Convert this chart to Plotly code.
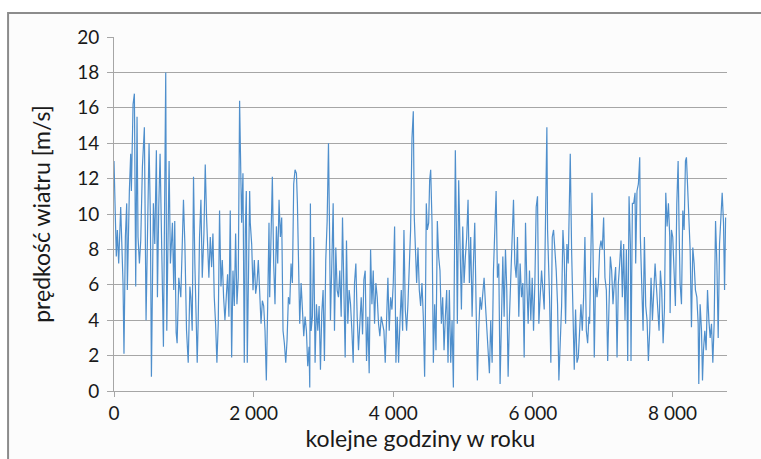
import plotly.graph_objects as go

# Hourly wind speed (hour of year, m/s)
seg1_hours = [0, 33, 48, 67, 96, 105, 129, 143, 163, 182, 191, 220, 239, 249, 273, 292, 301, 311, 330, 344,
              364, 383, 407, 435, 459, 502, 521, 536, 564, 584, 607, 622, 641, 660, 708, 732, 741, 756, 789, 808,
              837, 856, 870, 890, 904, 928, 957, 995]
seg1_speed = [13.0, 7.6, 9.1, 7.2, 10.4, 9.5, 6.1, 2.1, 8.7, 10.6, 5.7, 11.3, 13.4, 11.3, 16.2, 16.8, 11.0, 5.9, 15.5, 8.7,
              7.2, 8.5, 12.7, 14.9, 4.0, 14.0, 9.8, 0.8, 10.6, 8.3, 13.6, 5.3, 10.4, 13.4, 2.5, 13.2, 18.0, 3.4, 13.0, 7.2,
              9.5, 5.7, 9.6, 3.3, 2.7, 6.4, 5.3, 10.8]

seg2_hours = [1015, 1039, 1063, 1087, 1101, 1120, 1139, 1158, 1178, 1192, 1206, 1225, 1245, 1264, 1288, 1307, 1326, 1340,
              1359, 1379, 1398, 1417, 1436, 1455, 1474, 1493, 1512, 1532, 1551, 1570, 1589, 1608, 1627, 1646, 1665, 1685,
              1704, 1723, 1742, 1761, 1780, 1799, 1814, 1828, 1847, 1866, 1881, 1895, 1909, 1924, 1943, 1952, 1972, 1991,
              2010, 2029, 2048, 2067, 2086, 2106, 2125, 2144, 2163, 2182, 2201, 2220]
seg2_speed = [8.3, 3.4, 1.6, 5.9, 5.3, 3.4, 12.1, 7.2, 4.2, 1.6, 4.0, 8.7, 10.8, 6.4, 8.9, 12.8, 9.8, 8.0,
              6.4, 8.7, 7.0, 8.9, 5.3, 3.8, 1.6, 3.8, 10.2, 5.9, 7.4, 5.3, 4.0, 5.3, 6.6, 4.2, 10.2, 1.9,
              6.8, 4.8, 8.9, 4.9, 6.4, 16.4, 13.2, 9.5, 12.3, 1.6, 9.1, 11.3, 1.6, 7.2, 11.3, 9.5, 8.3, 5.7,
              7.4, 5.5, 6.1, 7.4, 5.3, 3.8, 5.1, 4.8, 3.4, 0.6, 4.8, 9.5]

seg3_hours = [2230, 2249, 2268, 2287, 2306, 2326, 2345, 2364, 2383, 2402, 2421, 2440, 2460, 2479, 2498, 2517, 2536, 2555,
              2574, 2593, 2613, 2627, 2641, 2660, 2680, 2699, 2718, 2737, 2756, 2775, 2794, 2804, 2813, 2823, 2842, 2861,
              2880, 2900, 2919, 2938, 2957, 2976, 2995, 3014, 3033, 3053, 3072, 3086, 3100, 3120, 3139, 3158, 3177, 3196,
              3215, 3234, 3254, 3273, 3292, 3311, 3330, 3349, 3368]
seg3_speed = [5.3, 8.7, 12.1, 7.2, 4.9, 9.3, 7.2, 10.8, 8.7, 9.8, 3.4, 2.7, 1.6, 2.9, 5.3, 4.9, 7.2, 6.1,
              11.7, 12.5, 12.3, 10.6, 6.8, 3.8, 6.1, 4.6, 3.1, 4.2, 3.4, 1.4, 2.5, 0.2, 10.6, 3.4, 4.2, 8.7,
              1.6, 4.9, 3.4, 4.8, 1.2, 4.4, 5.7, 1.7, 7.4, 9.6, 14.0, 9.5, 4.0, 7.2, 10.6, 3.4, 8.1, 5.7,
              5.3, 6.8, 4.2, 9.8, 6.1, 1.9, 8.5, 3.8, 5.7]

seg4_hours = [3388, 3407, 3426, 3445, 3464, 3483, 3502, 3521, 3541, 3560, 3579, 3598, 3617, 3636, 3655, 3675, 3694, 3713,
              3732, 3751, 3770, 3789, 3808, 3828, 3847, 3866, 3885, 3904, 3923, 3942, 3962, 3981, 4000, 4019, 4038, 4057,
              4076, 4095, 4115, 4134, 4153, 4172, 4191, 4210, 4229, 4248, 4268, 4287, 4301, 4315, 4335, 4354, 4373, 4392,
              4411, 4430, 4449, 4459, 4473, 4488, 4507, 4521]
seg4_speed = [4.9, 3.4, 1.6, 6.1, 7.2, 4.2, 2.3, 3.8, 5.3, 3.2, 6.3, 6.8, 1.7, 4.2, 1.0, 8.0, 4.9, 6.8,
              3.8, 6.1, 5.3, 3.8, 3.1, 4.2, 3.8, 3.4, 1.6, 4.0, 6.4, 3.4, 5.3, 4.6, 6.1, 9.3, 1.6, 4.2,
              1.6, 3.8, 5.7, 3.4, 9.1, 4.6, 3.4, 4.9, 6.8, 9.1, 14.3, 15.8, 9.8, 8.3, 6.1, 8.1, 5.7, 4.8,
              6.1, 4.2, 0.8, 3.8, 10.6, 9.1, 9.5, 11.9]

seg5_hours = [4536, 4555, 4574, 4593, 4612, 4631, 4650, 4669, 4689, 4708, 4727, 4746, 4765, 4784, 4803, 4823, 4842, 4861,
              4880, 4889, 4904, 4918, 4937, 4956, 4976, 4995, 5014, 5033, 5052, 5071, 5090, 5109, 5129, 5148, 5167, 5186,
              5205, 5224, 5243, 5263, 5282, 5301, 5320, 5339, 5358, 5377, 5396, 5416, 5435, 5454, 5473, 5492, 5511, 5530,
              5550, 5569, 5588, 5607, 5626, 5645, 5664]
seg5_speed = [12.5, 9.5, 1.6, 4.9, 2.3, 9.6, 7.6, 6.8, 3.8, 5.3, 2.3, 4.2, 5.7, 1.6, 5.7, 1.6, 4.0, 0.2,
              7.6, 13.6, 9.1, 3.8, 11.9, 7.2, 4.6, 9.3, 6.1, 7.6, 8.7, 10.8, 6.1, 8.7, 4.2, 7.2, 9.5, 4.9,
              0.6, 3.4, 5.3, 4.6, 5.7, 6.4, 4.9, 3.4, 2.5, 1.0, 4.0, 1.6, 6.8, 9.6, 11.3, 6.4, 7.2, 0.4,
              3.4, 7.6, 4.2, 8.0, 5.7, 0.8, 4.2]

seg6_hours = [5684, 5703, 5722, 5741, 5760, 5779, 5798, 5817, 5837, 5856, 5875, 5894, 5913, 5932, 5951, 5970, 5990, 6009,
              6028, 6047, 6066, 6085, 6104, 6124, 6143, 6162, 6181, 6200, 6210, 6219, 6238, 6257, 6277, 6296, 6315, 6334,
              6353, 6372, 6391, 6411, 6430, 6449, 6468, 6487, 6506, 6525, 6535, 6554, 6573, 6592, 6611, 6631, 6650, 6669,
              6688, 6707, 6726, 6745, 6765, 6784, 6803]
seg6_speed = [7.2, 8.7, 10.8, 7.2, 6.4, 8.7, 4.2, 7.2, 5.3, 6.1, 1.9, 9.5, 6.1, 3.8, 6.8, 4.0, 6.4, 3.4,
              6.1, 10.4, 11.0, 3.8, 5.3, 6.8, 5.7, 4.6, 9.8, 14.9, 9.1, 7.2, 5.3, 1.6, 8.7, 9.1, 8.0, 6.8,
              4.9, 0.6, 2.7, 4.8, 9.1, 7.6, 3.8, 8.3, 7.2, 11.5, 13.4, 8.0, 3.4, 1.2, 4.6, 1.6, 1.9, 3.8,
              4.9, 3.4, 5.3, 8.7, 3.4, 2.7, 4.2]

seg7_hours = [6812, 6832, 6846, 6860, 6879, 6898, 6918, 6937, 6956, 6975, 6994, 7013, 7032, 7052, 7071, 7090, 7109, 7128,
              7147, 7166, 7185, 7205, 7224, 7243, 7262, 7281, 7300, 7319, 7339, 7358, 7377, 7396, 7405, 7425, 7444, 7463,
              7472, 7491, 7511, 7530, 7539, 7558, 7578, 7597, 7616, 7635, 7654, 7673, 7692, 7712, 7731, 7750, 7769, 7788,
              7807, 7826, 7845, 7865, 7884, 7903, 7922, 7941, 7960]
seg7_speed = [3.8, 7.2, 11.2, 8.3, 1.9, 6.4, 5.3, 6.1, 8.0, 8.5, 8.0, 9.8, 6.4, 5.7, 1.7, 4.8, 7.6, 6.8,
              4.9, 6.1, 7.0, 1.9, 6.1, 7.2, 8.5, 5.3, 8.3, 4.0, 8.0, 1.7, 11.0, 8.3, 1.7, 10.6, 10.6, 11.2,
              7.2, 11.3, 11.7, 13.2, 8.7, 6.1, 3.4, 8.7, 4.8, 4.0, 1.7, 3.4, 6.4, 4.0, 5.7, 7.2, 5.9, 4.9,
              3.4, 6.8, 5.7, 2.7, 4.6, 11.2, 9.3, 10.6, 8.7]

seg8_hours = [7965, 7984, 8003, 8022, 8041, 8061, 8080, 8094, 8108, 8128, 8147, 8166, 8185, 8199, 8214, 8233, 8252, 8271,
              8290, 8309, 8328, 8348, 8367, 8376, 8395, 8415, 8429, 8443, 8462, 8481, 8501, 8520, 8539, 8558, 8577, 8596,
              8616, 8635, 8654, 8673, 8692, 8711, 8730, 8745, 8760]
seg8_speed = [4.4, 9.1, 8.7, 6.8, 4.8, 10.6, 13.0, 9.1, 6.1, 4.9, 10.2, 9.1, 13.0, 13.2, 11.7, 9.5, 8.0, 3.6,
              8.1, 7.2, 5.7, 5.3, 3.8, 0.4, 4.9, 3.4, 0.6, 2.3, 3.4, 2.3, 5.7, 4.0, 3.0, 3.8, 1.6, 3.8,
              9.6, 7.2, 3.0, 8.3, 9.8, 11.2, 9.5, 5.7, 9.8]

x_tickvals = [0, 2000, 4000, 6000, 8000]
x_ticktext = ["0", "2 000", "4 000", "6 000", "8 000"]
y_tickvals = [0, 2, 4, 6, 8, 10, 12, 14, 16, 18, 20]

hours = seg1_hours + seg2_hours + seg3_hours + seg4_hours + seg5_hours + seg6_hours + seg7_hours + seg8_hours
speed = seg1_speed + seg2_speed + seg3_speed + seg4_speed + seg5_speed + seg6_speed + seg7_speed + seg8_speed

FONT = "Lato"
TXT = "#1a1a1a"

fig = go.Figure()
fig.add_trace(go.Scatter(x=hours, y=speed, mode="lines",
                         line=dict(color="#4f8fcc", width=1.2), showlegend=False, hoverinfo="skip"))

fig.update_layout(
    width=761, height=459,
    margin=dict(l=114, r=34, t=37, b=68),
    paper_bgcolor="white", plot_bgcolor="#fcfcfc",
    font=dict(family=FONT, size=19, color=TXT),
    shapes=[dict(type="rect", xref="paper", yref="paper",
                 x0=-0.1728, x1=1.2, y0=-0.4, y1=1.0677,
                 line=dict(color="#8c8c8c", width=2), fillcolor="#fcfcfc", layer="below")],
)
fig.update_xaxes(range=[0, 8780], tickvals=x_tickvals, ticktext=x_ticktext,
                 showgrid=False, showline=True, linecolor="#a6a6a6", linewidth=1,
                 ticks="outside", ticklen=5, tickcolor="#a6a6a6", zeroline=False,
                 title=dict(text="kolejne godziny w roku", standoff=8),
                 tickfont=dict(family=FONT, size=19, color=TXT))
fig.update_yaxes(range=[0, 20], tickvals=y_tickvals,
                 showgrid=True, gridcolor="#a6a6a6", gridwidth=1,
                 showline=True, linecolor="#a6a6a6", linewidth=1,
                 ticks="outside", ticklen=6, tickcolor="#a6a6a6", zeroline=False,
                 ticklabelstandoff=4,
                 title=dict(text="prędkość wiatru [m/s]", standoff=20),
                 tickfont=dict(family=FONT, size=19, color=TXT))

fig.write_html("out.html")
